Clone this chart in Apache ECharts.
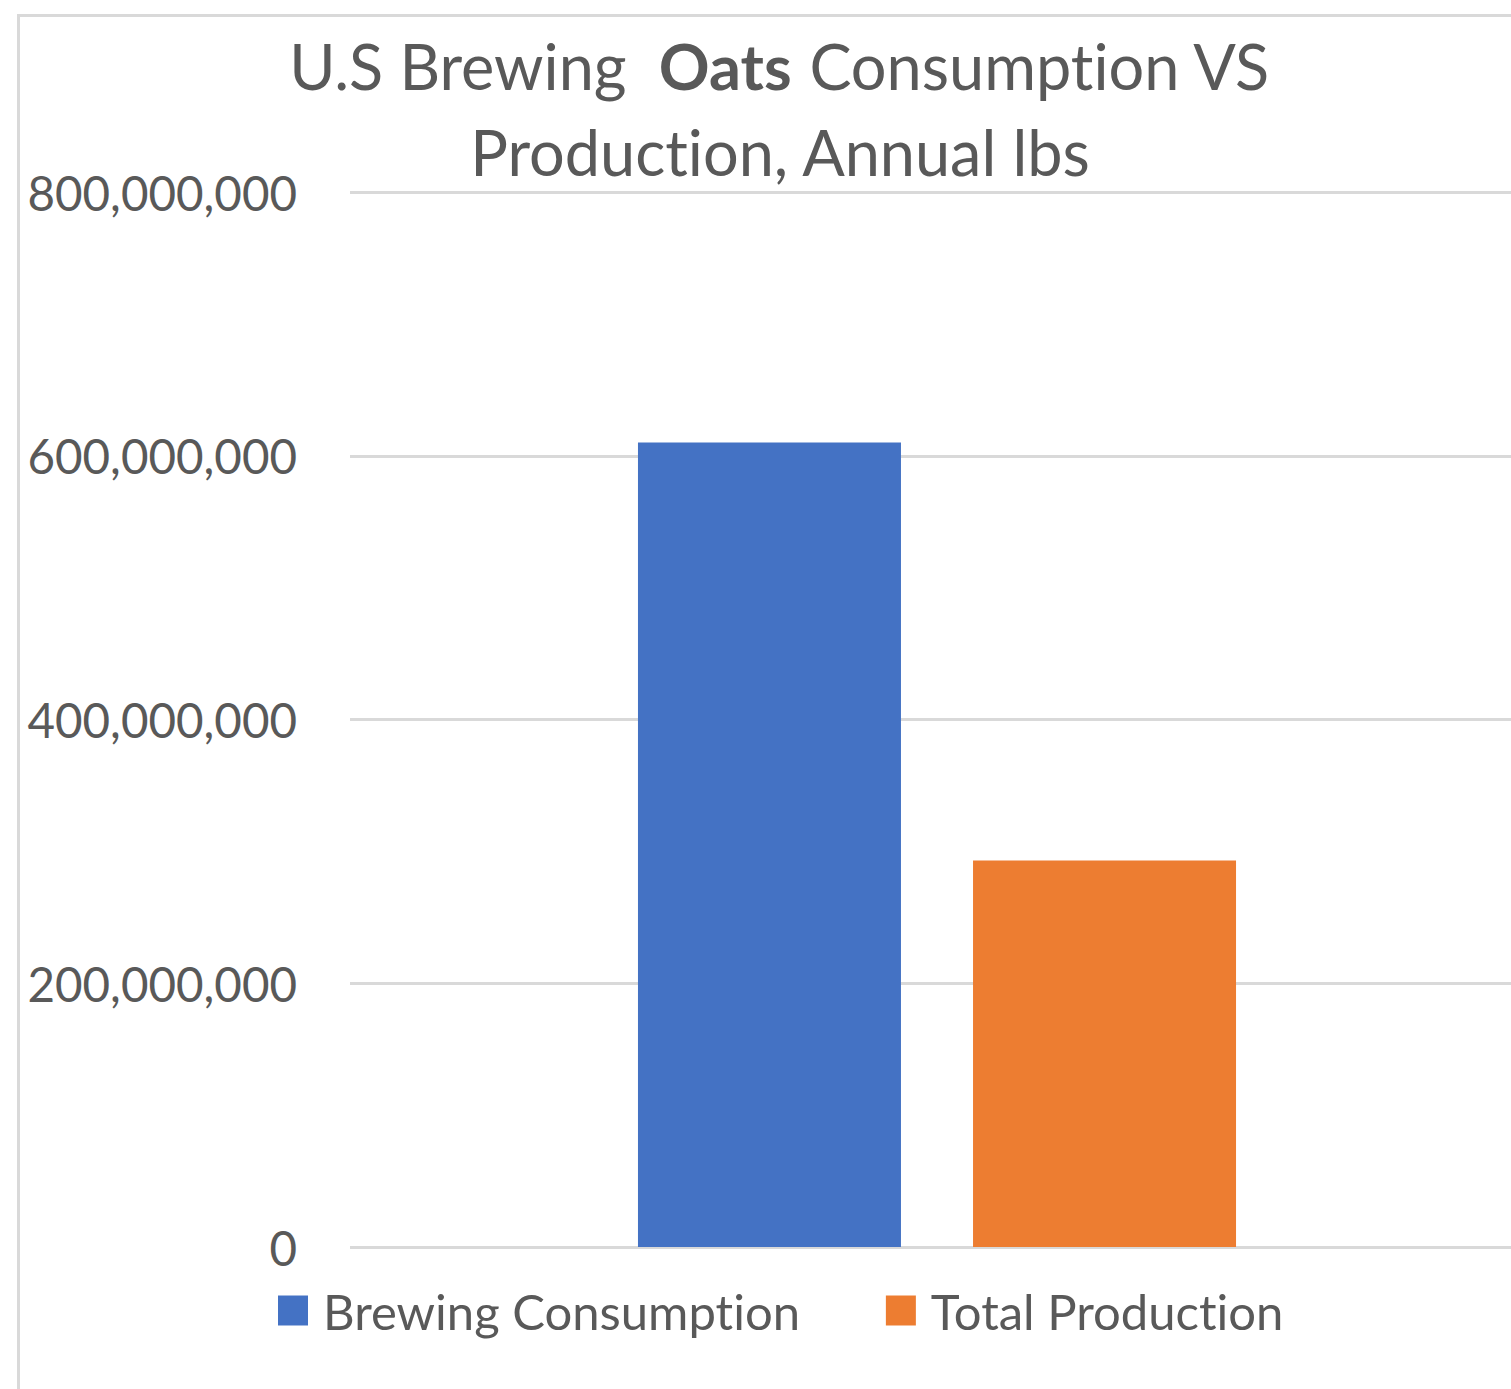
<!DOCTYPE html>
<html>
<head>
<meta charset="utf-8">
<script src="https://cdn.jsdelivr.net/npm/echarts@6/dist/echarts.min.js"></script>
<style>
  html, body { margin: 0; padding: 0; background: #fff; overflow: hidden; }
  #chart { width: 1540px; height: 1389px; }
  #chart text { font-variant-ligatures: none; font-feature-settings: "liga" 0, "clig" 0; }
</style>
</head>
<body>
<div id="chart"></div>
<script>
// Annual pounds of oats: brewing use vs. total U.S. production
const categories = ['Oats'];
const seriesNames = ['Brewing Consumption', 'Total Production'];
const brewingConsumption = [610000000];
const totalProduction = [293000000];
const yTicks = [0, 200000000, 400000000, 600000000, 800000000];

const FONT = 'Lato';
const TEXT = '#595959';

const chart = echarts.init(document.getElementById('chart'), null, { renderer: 'svg' });

chart.setOption({
  backgroundColor: '#ffffff',
  animation: false,
  textStyle: { fontFamily: FONT },
  graphic: [{
    type: 'rect',
    left: 16, top: 13,
    shape: { width: 1700, height: 1600 },
    style: { fill: 'none', stroke: '#d9d9d9', lineWidth: 3 },
    silent: true
  }],
  title: {
    left: 775,
    top: 17,
    textAlign: 'center',
    text: '{n|U.S Brewing  }{b|Oats}{n| Consumption VS}\n{n|Production, Annual lbs}',
    textStyle: {
      fontWeight: 'normal',
      rich: {
        n: { fontFamily: FONT, fontSize: 63, color: TEXT, fontWeight: 'normal', lineHeight: 86 },
        b: { fontFamily: FONT, fontSize: 63, color: TEXT, fontWeight: 'bold', lineHeight: 86 }
      }
    }
  },
  legend: {
    left: 278,
    top: 1286,
    padding: 0,
    itemWidth: 30,
    itemHeight: 30,
    itemGap: 85,
    icon: 'rect',
    data: seriesNames,
    textStyle: { fontFamily: FONT, fontSize: 49, color: TEXT, lineHeight: 46, padding: [0, 0, 0, 10] }
  },
  grid: { left: 350, top: 192, width: 1174, height: 1055, containLabel: false },
  xAxis: {
    type: 'category',
    data: categories,
    axisLine: { show: false },
    axisTick: { show: false },
    axisLabel: { show: false }
  },
  yAxis: {
    type: 'value',
    min: yTicks[0],
    max: yTicks[yTicks.length - 1],
    interval: yTicks[1] - yTicks[0],
    axisLine: { show: false },
    axisTick: { show: false },
    splitLine: { lineStyle: { color: '#d9d9d9', width: 3 } },
    axisLabel: {
      fontFamily: FONT,
      fontSize: 47.5,
      color: TEXT,
      margin: 53,
      padding: [0, 0, 6, 0],
      formatter: v => v.toLocaleString('en-US')
    }
  },
  series: [
    {
      name: seriesNames[0],
      type: 'bar',
      data: brewingConsumption,
      barWidth: 263,
      barGap: '27.4%',
      itemStyle: { color: '#4472c4' }
    },
    {
      name: seriesNames[1],
      type: 'bar',
      data: totalProduction,
      barWidth: 263,
      barGap: '27.4%',
      itemStyle: { color: '#ed7d31' }
    }
  ]
});
</script>
</body>
</html>
